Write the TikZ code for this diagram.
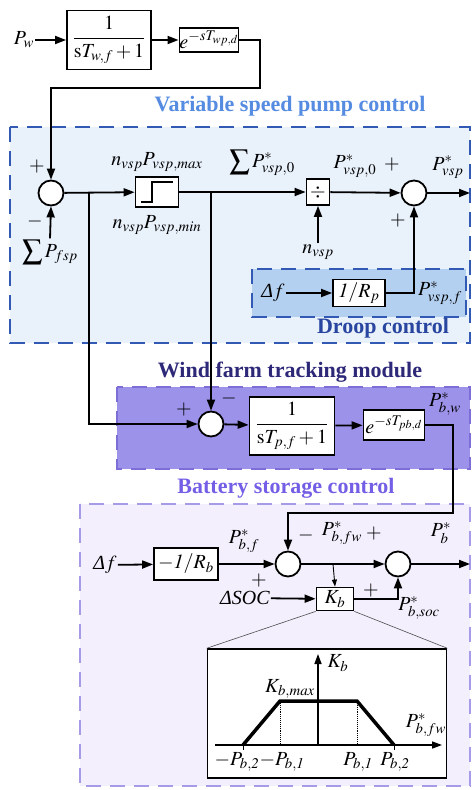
\documentclass[tikz,border=0pt]{standalone}
\usepackage{mathptmx}
\usepackage[no-math]{fontspec}
\setmainfont{Liberation Serif}
\usepackage{amsmath}
\usepackage{xcolor}
\usetikzlibrary{arrows.meta}
\definecolor{vspfill}{RGB}{233,241,251}
\definecolor{vspline}{RGB}{50,90,180}
\definecolor{vsptext}{RGB}{85,140,225}
\definecolor{droopfill}{RGB}{180,208,240}
\definecolor{drooptext}{RGB}{40,70,160}
\definecolor{windfill}{RGB}{156,146,234}
\definecolor{windline}{RGB}{125,110,215}
\definecolor{windtext}{RGB}{45,40,120}
\definecolor{batfill}{RGB}{243,239,253}
\definecolor{batline}{RGB}{165,155,232}
\definecolor{battext}{RGB}{115,95,230}
\tikzset{
blk/.style={draw, fill=white, line width=1.8pt, inner sep=0pt},
sumc/.style={circle, draw, fill=white, line width=1.8pt, minimum size=25pt, inner sep=0pt},
lbl/.style={inner sep=1pt},
wire/.style={line width=1.8pt},
sig/.style={line width=1.8pt, -{Triangle[length=11pt,width=8pt]}},
thinsig/.style={line width=0.9pt, -{Triangle[length=7pt,width=5pt]}},
region/.style={line width=2pt, dash pattern=on 15pt off 9pt},
title/.style={font=\fontsize{22}{26}\selectfont\bfseries},
}

\begin{document}
\begin{tikzpicture}[x=1pt,y=-1pt,font=\fontsize{20}{24}\selectfont]
\useasboundingbox (0,0) rectangle (474,790);
\fill[white] (0,0) rectangle (474,790);
% the regions
\filldraw[region, draw=vspline, fill=vspfill] (10,127) rectangle (470,343);
\filldraw[region, draw=vspline, fill=droopfill] (252,269) rectangle (466,317);
\filldraw[region, draw=windline, fill=windfill] (117,387) rectangle (470,469);
\filldraw[region, draw=batline, fill=batfill] (80,504) rectangle (470,786);
\node[title, text=vsptext] (tvsp) at (290,106) {Variable speed pump control};
\node[title, text=drooptext] (tdroop) at (383,328) {Droop control};
\node[title, text=windtext] (twind) at (290,372) {Wind farm tracking module};
\node[title, text=battext] (tbat) at (286,488) {Battery storage control};

% the blocks
\node[lbl] (pw) at (24,40) {$P_w$};
\node[blk, minimum width=84pt, minimum height=59pt] (fw) at (109,40) {$\dfrac{1}{\mathrm{s}T_{w,f}+1}$};
\node[blk, minimum width=58pt, minimum height=24pt] (dw) at (209,40) {$e^{-sT_{wp,d}}$};
\node[sumc] (s1) at (51,193) {};
\node[blk, minimum width=43pt, minimum height=30pt] (sat) at (157,192) {};
\node[blk, minimum width=23pt, minimum height=26pt] (dv) at (318,192) {$\div$};
\node[sumc] (s3) at (414,193) {};
\node[blk, minimum width=52pt, minimum height=27pt] (rp) at (359,293) {$\mathit{1}/R_p$};
\node[sumc] (s2) at (211,424) {};
\node[blk, minimum width=85pt, minimum height=58pt] (fp) at (292,426) {$\dfrac{1}{\mathrm{s}T_{p,f}+1}$};
\node[blk, minimum width=61pt, minimum height=30pt] (dp) at (394,425) {$e^{-sT_{pb,d}}$};
\node[blk, minimum width=64pt, minimum height=32pt] (rb) at (186,564) {$-\mathit{1}/R_b$};
\node[sumc] (s4) at (288,564) {};
\node[sumc] (s5) at (398,564) {};
\node[blk, minimum width=37pt, minimum height=23pt] (kb) at (335,599) {$K_b$};
\node[blk, line width=1.5pt, minimum width=239pt, minimum height=129pt] (inset) at (327,713.5) {};

% the saturation symbol
\draw[line width=1.5pt, shift={(sat.center)}] (-16,10) -- (-5,10) -- (-5,-10) -- (16,-10);

% the labels
\node[lbl] (p1) at (37,167) {$+$};
\node[lbl] (m1) at (35,221) {$-$};
\node[lbl] (fsp) at (50,252) {$\displaystyle\sum P_{fsp}$};
\node[lbl] (pmax) at (157,162) {$n_{vsp}P_{vsp,max}$};
\node[lbl] (pmin) at (157,225) {$n_{vsp}P_{vsp,min}$};
\node[lbl] (sum0) at (262,163) {$\displaystyle\sum P^*_{vsp,0}$};
\node[lbl] (pv0) at (355,166) {$P^*_{vsp,0}$};
\node[lbl] (p3a) at (392,165) {$+$};
\node[lbl] (p3b) at (398,221) {$+$};
\node[lbl] (pvsp) at (448,167) {$P^*_{vsp}$};
\node[lbl] (nv) at (318,252) {$n_{vsp}$};
\node[lbl] (dfp) at (273,293) {{\itshape Δ}$f$};
\node[lbl] (pvf) at (440,293) {$P^*_{vsp,f}$};
\node[lbl] (p2) at (184,409) {$+$};
\node[lbl] (m2) at (229,398) {$-$};
\node[lbl] (pbw) at (445,404) {$P^*_{b,w}$};
\node[lbl] (dfb) at (105,565) {{\itshape Δ}$f$};
\node[lbl] (pbf) at (244,541) {$P^*_{b,f}$};
\node[lbl] (p4) at (259,580) {$+$};
\node[lbl] (m4) at (306,535) {$-$};
\node[lbl] (pbfw) at (342,533) {$P^*_{b,fw}$};
\node[lbl] (p5a) at (374,533) {$+$};
\node[lbl] (p5b) at (371,590) {$+$};
\node[lbl] (pb) at (441,533) {$P^*_b$};
\node[lbl] (soc) at (245,598) {\itshape ΔSOC};
\node[lbl] (pbsoc) at (419,608) {$P^*_{b,soc}$};

% the junctions
\coordinate (k1) at (260,88);
\coordinate (j1) at (89,193);
\coordinate (j2) at (211,193);
\coordinate (vout) at (470,193);
\coordinate (k2) at (453,513);
\coordinate (j3) at (333,564);
\coordinate (bout) at (470,564);

% the signals
\draw[sig] (pw) -- (fw);
\draw[sig] (fw) -- (dw);
\draw[sig] (dw.east) -| (k1) -| (s1.north);
\draw[sig] (fsp.north) -- (s1.south);
\draw[sig] (s1) -- (sat);
\draw[sig] (sat) -- (dv);
\draw[sig] (nv.north) -- (dv.south);
\draw[sig] (dv) -- (s3);
\draw[sig] (s3.east) -- (vout);
\draw[sig] (dfp) -- (rp);
\draw[sig] (rp.east) -| (s3.south);
\draw[sig] (j1) |- (s2.west);
\draw[sig] (j2) -- (s2.north);
\draw[sig] (s2) -- (fp);
\draw[sig] (fp) -- (dp);
\draw[sig] (dp.east) -| (k2) -| (s4.north);
\draw[sig] (dfb) -- (rb);
\draw[sig] (rb) -- (s4);
\draw[sig] (s4) -- (s5);
\draw[sig] (s5.east) -- (bout);
\draw[thinsig] (j3) -- (kb.north);
\draw[sig] (soc) -- (kb);
\draw[sig] (kb.east) -| (s5.south);
\draw[line width=0.6pt, black!70] (kb.south west) -- (inset.north west);
\draw[line width=0.6pt, black!70] (kb.south east) -- (inset.north east);

% the K_b curve
\coordinate (o) at (318,745);
\coordinate (xa) at (215,745);
\coordinate (xb) at (442,745);
\coordinate (ya) at (318,654);
\coordinate (n2) at (243,745);
\coordinate (n1) at (280,701);
\coordinate (q1) at (357,701);
\coordinate (q2) at (394,745);
\draw[line width=1.5pt, -{Triangle[length=10pt,width=7pt]}] (xa) -- (xb);
\draw[line width=1.5pt, -{Triangle[length=10pt,width=7pt]}] (o) -- (ya);
\draw[line width=0.9pt, densely dotted] (n1) -- (n1 |- o);
\draw[line width=0.9pt, densely dotted] (q1) -- (q1 |- o);
\draw[line width=3.5pt, line join=miter] (n2) -- (n1) -- (q1) -- (q2);
\draw[line width=1pt] (n2) -- ++(0,5) (q2) -- ++(0,5);
\node[lbl] (lkb) at (338,663) {$K_b$};
\node[lbl] (lkmax) at (290,689) {$K_{b,max}$};
\node[lbl] (lx) at (426,725) {$P^*_{b,fw}$};
\node[lbl] (ln2) at (237,762) {$-P_{b,\mathit{2}}$};
\node[lbl] (ln1) at (282,762) {$-P_{b,\mathit{1}}$};
\node[lbl] (lq1) at (358,762) {$P_{b,\mathit{1}}$};
\node[lbl] (lq2) at (395,762) {$P_{b,\mathit{2}}$};
\end{tikzpicture}
\end{document}
